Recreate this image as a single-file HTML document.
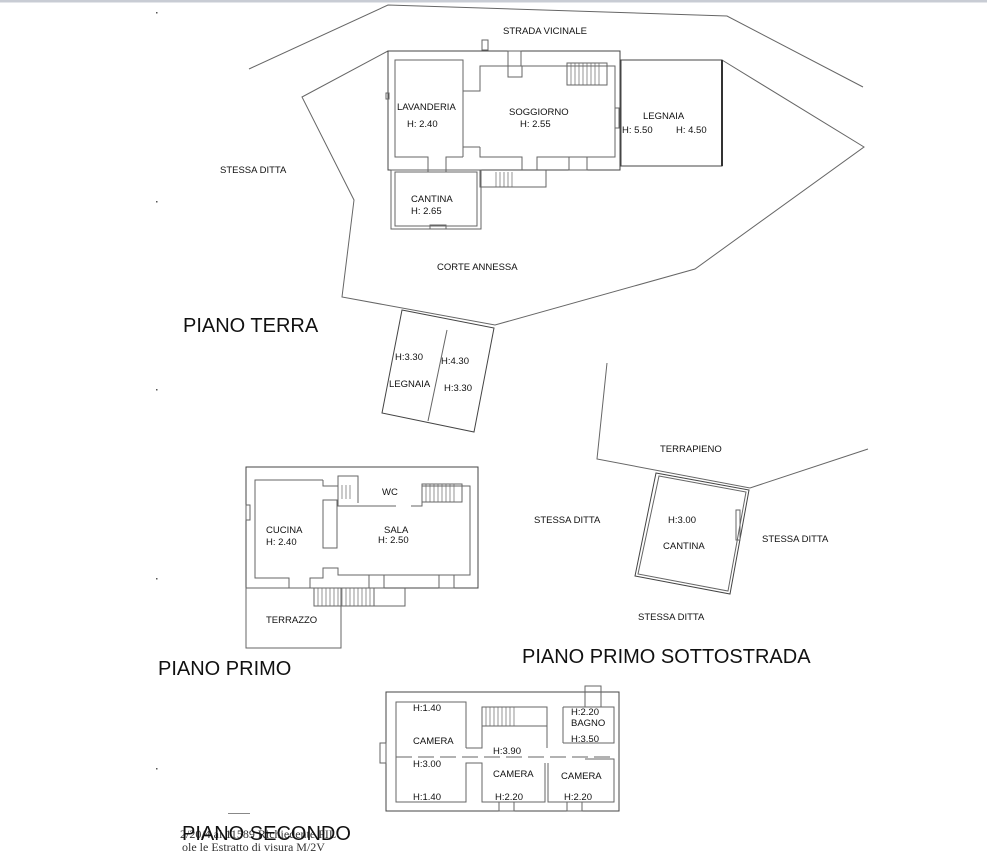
<!DOCTYPE html>
<html><head><meta charset="utf-8"><style>
html,body{margin:0;padding:0;background:#fff;}
svg{display:block;}
text{font-family:"Liberation Sans",Arial,sans-serif;fill:#111;}
.s{font-size:9.5px;}
.t{font-size:20px;}
</style></head><body>
<svg width="987" height="853" viewBox="0 0 987 853" xmlns="http://www.w3.org/2000/svg">
<rect x="0" y="0" width="987" height="2.5" fill="#c8ccd4"/>
<g fill="#555"><rect x="156" y="12" width="1.5" height="1.5"/><rect x="156" y="201" width="1.5" height="1.5"/><rect x="156" y="389" width="1.5" height="1.5"/><rect x="156" y="578" width="1.5" height="1.5"/><rect x="156" y="768" width="1.5" height="1.5"/></g>
<g fill="none" stroke="#666" stroke-width="1">
<polyline points="249,69 388,5 727,16 863,87"/>
<polyline points="388,51 302,97 354,200 342,297 495,325 695,269 864,147 722,60"/>
<rect x="388" y="51" width="232" height="119" stroke="#444"/>
<rect x="621" y="60" width="101" height="106" stroke="#444"/>
<line x1="722" y1="60" x2="722" y2="166" stroke="#333" stroke-width="2"/>
<rect x="391" y="170" width="90" height="59"/>
<rect x="395" y="172" width="82" height="54"/>
<polyline points="463,157 463,60 395,60 395,157 428,157 428,172 446,172 446,157 463,157"/>
<polyline points="463,91 480,91 480,66 508,66 508,77 522,77 522,66 615,66 615,157 537,157 537,170"/>
<polyline points="480,147 480,157 522,157 522,170"/>
<polyline points="463,147 480,147"/>
<polyline points="480,170 480,187 546,187 546,170"/>
<rect x="482" y="40" width="6" height="10"/>
<rect x="508" y="51" width="13" height="15"/>
<rect x="569" y="157" width="18" height="13"/>
<rect x="386" y="93" width="3" height="6"/>
<rect x="615" y="108" width="4" height="20"/>
<rect x="567" y="63" width="40" height="22"/>
<g stroke-width="0.7"><line x1="571" y1="63" x2="571" y2="85"/><line x1="575" y1="63" x2="575" y2="85"/><line x1="579" y1="63" x2="579" y2="85"/><line x1="583" y1="63" x2="583" y2="85"/><line x1="587" y1="63" x2="587" y2="85"/><line x1="591" y1="63" x2="591" y2="85"/><line x1="595" y1="63" x2="595" y2="85"/><line x1="599" y1="63" x2="599" y2="85"/>
<line x1="496" y1="172" x2="496" y2="187"/><line x1="500" y1="172" x2="500" y2="187"/><line x1="504" y1="172" x2="504" y2="187"/><line x1="508" y1="172" x2="508" y2="187"/><line x1="512" y1="172" x2="512" y2="187"/></g>
<rect x="430" y="225" width="16" height="4"/>
<polygon points="402,310 494,328 474,432 382,413" stroke="#444"/>
<line x1="447" y1="330" x2="428" y2="421"/>
<polyline points="607,363 597,459 750,488 868,449"/>
<polygon points="656,473 749,490 730,594 635,576" stroke="#444"/>
<polygon points="659,476 746,492 728,591 638,574"/>
<rect x="736" y="510" width="4" height="30"/>
<rect x="246" y="467" width="232" height="121" stroke="#444"/>
<rect x="246" y="588" width="95" height="60"/>
<polyline points="323,480 255,480 255,578 289,578 289,588"/>
<polyline points="323,480 323,486 338,486 338,476 358,476 358,503"/>
<polyline points="338,486 338,506 396,506"/>
<polyline points="411,506 422,506 422,486 470,486 470,575 338,575 338,568 323,568 323,578 310,578 310,588"/>
<rect x="323" y="500" width="14" height="48"/>
<rect x="422" y="484" width="40" height="18"/>
<g stroke-width="0.7"><line x1="426" y1="484" x2="426" y2="502"/><line x1="430" y1="484" x2="430" y2="502"/><line x1="434" y1="484" x2="434" y2="502"/><line x1="438" y1="484" x2="438" y2="502"/><line x1="442" y1="484" x2="442" y2="502"/><line x1="446" y1="484" x2="446" y2="502"/><line x1="450" y1="484" x2="450" y2="502"/><line x1="454" y1="484" x2="454" y2="502"/>
<line x1="342" y1="485" x2="342" y2="499"/><line x1="346" y1="485" x2="346" y2="499"/><line x1="350" y1="485" x2="350" y2="499"/>
</g>
<rect x="314" y="588" width="60" height="18"/>
<g stroke-width="0.7"><line x1="318" y1="588" x2="318" y2="606"/><line x1="322" y1="588" x2="322" y2="606"/><line x1="326" y1="588" x2="326" y2="606"/><line x1="330" y1="588" x2="330" y2="606"/><line x1="334" y1="588" x2="334" y2="606"/><line x1="338" y1="588" x2="338" y2="606"/><line x1="342" y1="588" x2="342" y2="606"/><line x1="346" y1="588" x2="346" y2="606"/><line x1="350" y1="588" x2="350" y2="606"/><line x1="354" y1="588" x2="354" y2="606"/><line x1="358" y1="588" x2="358" y2="606"/><line x1="362" y1="588" x2="362" y2="606"/><line x1="366" y1="588" x2="366" y2="606"/><line x1="370" y1="588" x2="370" y2="606"/></g>
<polyline points="374,588 374,606 405,606 405,588"/>
<rect x="369" y="575" width="15" height="13"/>
<rect x="439" y="575" width="15" height="13"/>
<rect x="246" y="505" width="4" height="15"/>
<rect x="386" y="692" width="233" height="119" stroke="#444"/>
<polyline points="466,748 466,702 396,702 396,802 466,802 466,763 482,763 482,802 545,802 545,763"/>
<polyline points="466,748 482,748 482,726 547,726 547,748"/>
<rect x="482" y="707" width="65" height="19"/>
<g stroke-width="0.7"><line x1="486" y1="707" x2="486" y2="726"/><line x1="490" y1="707" x2="490" y2="726"/><line x1="494" y1="707" x2="494" y2="726"/><line x1="498" y1="707" x2="498" y2="726"/><line x1="502" y1="707" x2="502" y2="726"/><line x1="506" y1="707" x2="506" y2="726"/><line x1="510" y1="707" x2="510" y2="726"/><line x1="514" y1="707" x2="514" y2="726"/></g>
<polyline points="548,763 548,802 614,802 614,759 585,759"/>
<polyline points="563,743 614,743 614,707 563,707"/>
<line x1="563" y1="707" x2="563" y2="743"/>
<line x1="396" y1="757" x2="614" y2="757" stroke-dasharray="16,6"/>
<rect x="585" y="686" width="16" height="21"/>
<rect x="380" y="743" width="6" height="20"/>
<rect x="499" y="802" width="15" height="9"/>
<rect x="567" y="802" width="15" height="9"/>
</g>
<text class="s" x="503" y="34">STRADA VICINALE</text>
<text class="s" x="220" y="173">STESSA DITTA</text>
<text class="s" x="397" y="110">LAVANDERIA</text>
<text class="s" x="407" y="127">H: 2.40</text>
<text class="s" x="509" y="115">SOGGIORNO</text>
<text class="s" x="520" y="127">H: 2.55</text>
<text class="s" x="643" y="119">LEGNAIA</text>
<text class="s" x="622" y="133">H: 5.50</text>
<text class="s" x="676" y="133">H: 4.50</text>
<text class="s" x="411" y="202">CANTINA</text>
<text class="s" x="411" y="214">H: 2.65</text>
<text class="s" x="437" y="270">CORTE ANNESSA</text>
<text class="t" x="183" y="332">PIANO TERRA</text>
<text class="s" x="395" y="360">H:3.30</text>
<text class="s" x="441" y="364">H:4.30</text>
<text class="s" x="389" y="387">LEGNAIA</text>
<text class="s" x="444" y="391">H:3.30</text>
<text class="s" x="660" y="452">TERRAPIENO</text>
<text class="s" x="534" y="523">STESSA DITTA</text>
<text class="s" x="668" y="523">H:3.00</text>
<text class="s" x="663" y="549">CANTINA</text>
<text class="s" x="762" y="542">STESSA DITTA</text>
<text class="s" x="638" y="620">STESSA DITTA</text>
<text class="s" x="382" y="495">WC</text>
<text class="s" x="266" y="533">CUCINA</text>
<text class="s" x="266" y="545">H: 2.40</text>
<text class="s" x="384" y="533">SALA</text>
<text class="s" x="378" y="543">H: 2.50</text>
<text class="s" x="266" y="623">TERRAZZO</text>
<text class="t" x="158" y="675">PIANO PRIMO</text>
<text class="t" x="522" y="663">PIANO PRIMO SOTTOSTRADA</text>
<text class="s" x="413" y="711">H:1.40</text>
<text class="s" x="413" y="744">CAMERA</text>
<text class="s" x="413" y="767">H:3.00</text>
<text class="s" x="413" y="800">H:1.40</text>
<text class="s" x="493" y="754">H:3.90</text>
<text class="s" x="493" y="777">CAMERA</text>
<text class="s" x="495" y="800">H:2.20</text>
<text class="s" x="571" y="715">H:2.20</text>
<text class="s" x="571" y="726">BAGNO</text>
<text class="s" x="571" y="742">H:3.50</text>
<text class="s" x="561" y="779">CAMERA</text>
<text class="s" x="564" y="800">H:2.20</text>
<rect x="228" y="813" width="22" height="1" fill="#888"/>
<text x="180" y="838" style="font-family:'Liberation Serif',serif;font-size:12px;fill:#333">2/20/4  al 11589  Richiedente PIL</text>
<text x="182" y="851" style="font-family:'Liberation Serif',serif;font-size:12px;fill:#333">ole le Estratto di visura  M/2V</text>
<text class="t" x="182" y="840">PIANO SECONDO</text>
</svg>
</body></html>
